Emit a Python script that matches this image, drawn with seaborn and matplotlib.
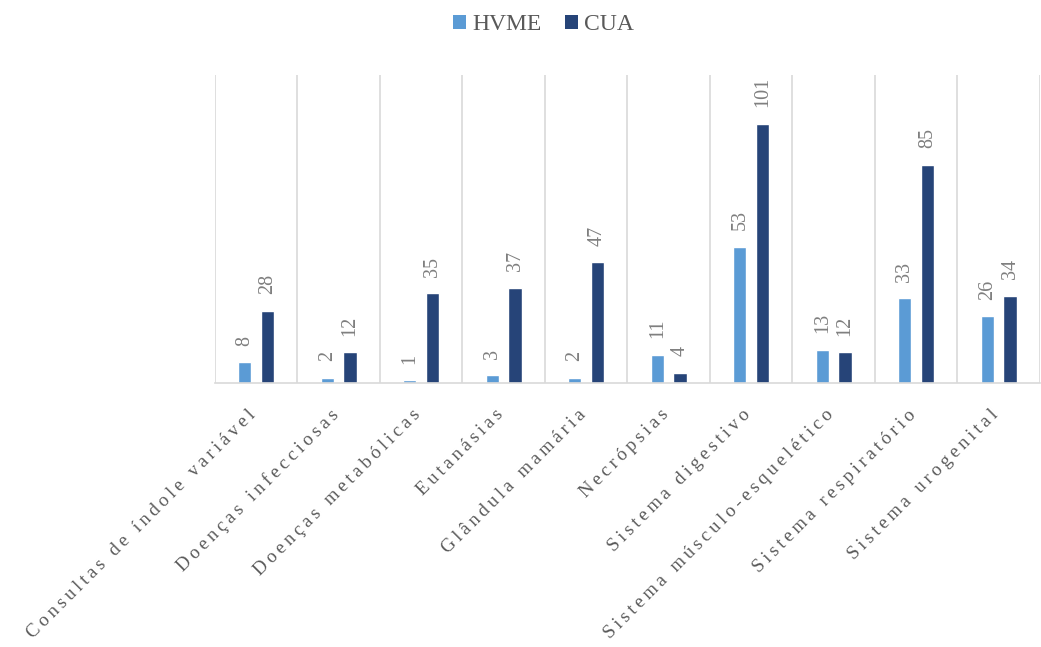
import numpy as np
import pandas as pd
import seaborn as sns
import matplotlib.pyplot as plt
import matplotlib.transforms as mtransforms
from matplotlib.patches import Patch

categories = [
    "Consultas de índole variável",
    "Doenças infecciosas",
    "Doenças metabólicas",
    "Eutanásias",
    "Glândula mamária",
    "Necrópsias",
    "Sistema digestivo",
    "Sistema músculo-esquelético",
    "Sistema respiratório",
    "Sistema urogenital",
]
series_names = ["HVME", "CUA"]
hvme = [8, 2, 1, 3, 2, 11, 53, 13, 33, 26]
cua = [28, 12, 35, 37, 47, 4, 101, 12, 85, 34]
colors = ["#5B9BD5", "#264478"]

df = pd.DataFrame({
    "categoria": categories * 2,
    "serie": [series_names[0]] * len(categories) + [series_names[1]] * len(categories),
    "valor": hvme + cua,
})

sns.set_style("white")
plt.rcParams["font.family"] = ["Liberation Serif", "DejaVu Serif"]

fig = plt.figure(figsize=(10.41, 6.47), dpi=100)
ax = fig.add_axes([0.2065, 0.408, 0.7925, 0.476])

sns.barplot(data=df, x="categoria", y="valor", hue="serie", hue_order=series_names,
            palette=colors, saturation=1, width=0.55, gap=0.42, legend=False, ax=ax)

for cont in ax.containers:
    ax.bar_label(cont, rotation=90, padding=12, fontsize=14.5, color="#7F7F7F")

ax.set_ylim(0, 120)
ax.set_xlim(-0.5, len(categories) - 0.5)
ax.set_yticks([])
ax.set_xlabel("")
ax.set_ylabel("")

# category separators
ax.set_xticks(np.arange(-0.5, len(categories)), minor=True)
ax.grid(which="minor", axis="x", color="#D9D9D9", linewidth=1.2)
ax.grid(which="major", axis="both", visible=False)
ax.tick_params(which="both", length=0)

def spaced(s):
    return "\u2009".join(s)

ax.set_xticks(range(len(categories)))
ax.set_xticklabels([spaced(c) for c in categories], rotation=45, ha="right",
                   rotation_mode="anchor", fontsize=13.6, color="#595959")
ax.tick_params(axis="x", which="major", pad=14)
shift = mtransforms.ScaledTranslation(-0.09, -0.04, fig.dpi_scale_trans)
for lbl in ax.get_xticklabels():
    lbl.set_transform(lbl.get_transform() + shift)

for side in ["left", "right", "top"]:
    ax.spines[side].set_visible(False)
ax.spines["bottom"].set_color("#D9D9D9")
ax.spines["bottom"].set_linewidth(1.2)

handles = [Patch(facecolor=c, edgecolor="none") for c in colors]
fig.legend(handles, series_names, loc="center", bbox_to_anchor=(0.522, 0.962),
           ncol=2, frameon=False, fontsize=17, labelcolor="#595959",
           handlelength=0.55, handleheight=0.55, handletextpad=0.25,
           columnspacing=1.0)

fig.savefig("out.png", dpi=100)
